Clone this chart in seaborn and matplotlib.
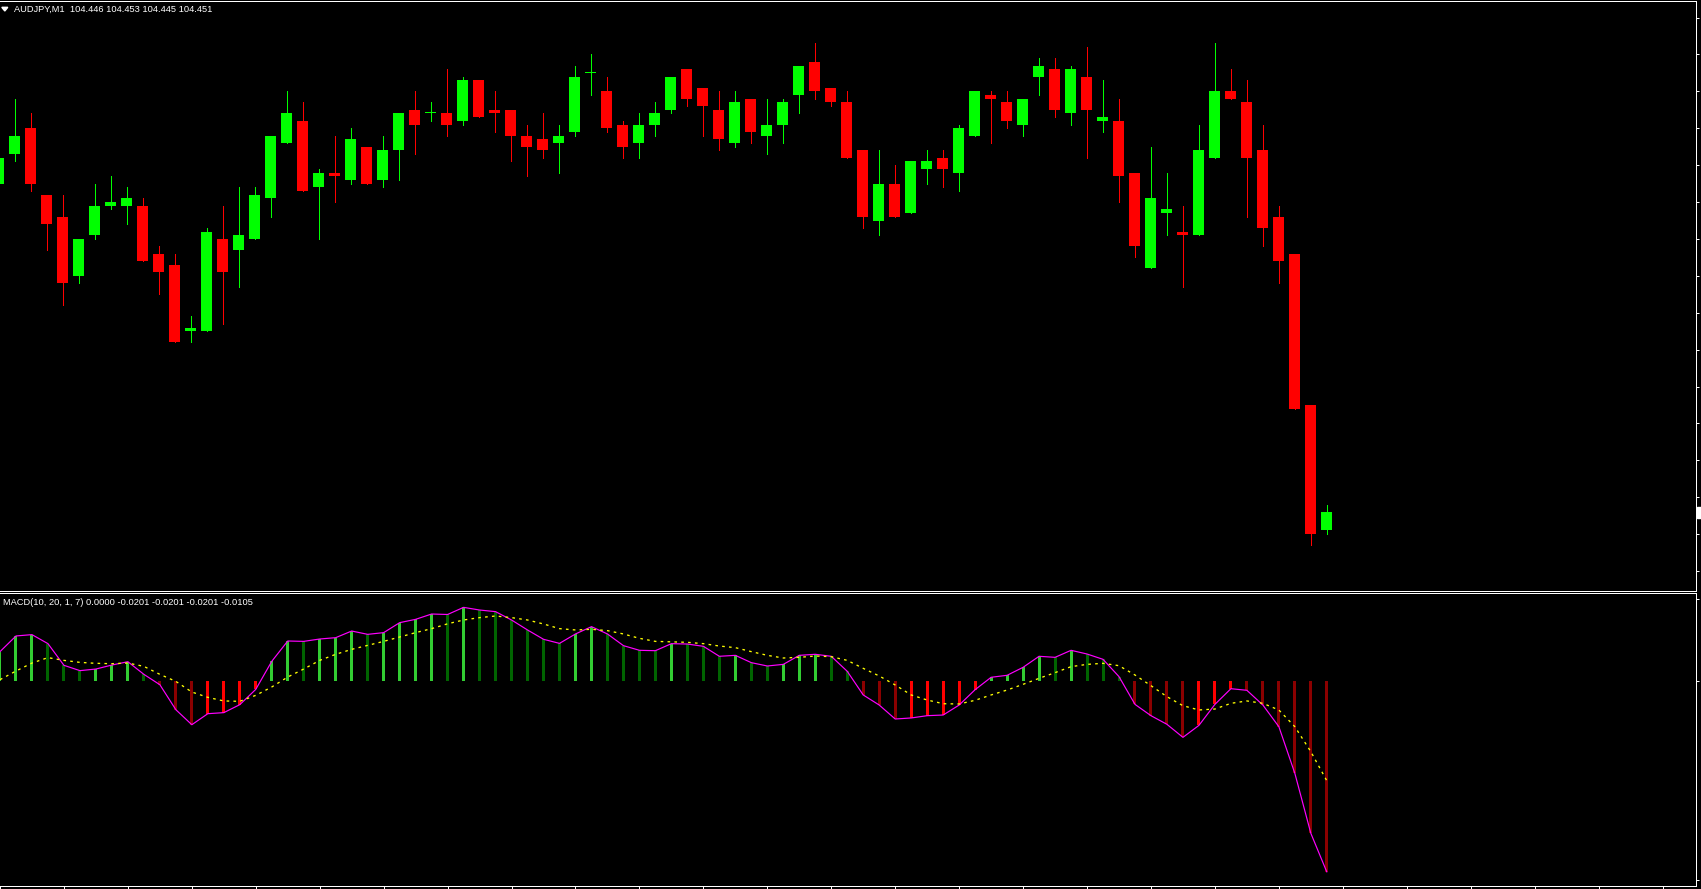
import numpy as np
import pandas as pd
import matplotlib
matplotlib.use("Agg")
import matplotlib.pyplot as plt
from matplotlib.patches import Polygon, Rectangle
import seaborn as sns

# ---------------- data ----------------
symbol_label = "AUDJPY,M1  104.446 104.453 104.445 104.451"
macd_label = "MACD(10, 20, 1, 7) 0.0000 -0.0201 -0.0201 -0.0201 -0.0105"

opens = [104.540, 104.548, 104.555, 104.537, 104.531, 104.515, 104.526, 104.534, 104.534, 104.534,
         104.521, 104.518, 104.500, 104.500, 104.525, 104.522, 104.525, 104.536, 104.551, 104.557,
         104.539, 104.543, 104.541, 104.550, 104.541, 104.549, 104.560, 104.559, 104.559, 104.557,
         104.568, 104.560, 104.560, 104.553, 104.552, 104.551, 104.554, 104.570, 104.565, 104.556,
         104.551, 104.556, 104.560, 104.571, 104.566, 104.560, 104.551, 104.563, 104.553, 104.556,
         104.564, 104.573, 104.566, 104.562, 104.549, 104.530, 104.540, 104.532, 104.544, 104.547,
         104.543, 104.553, 104.564, 104.562, 104.556, 104.569, 104.571, 104.559, 104.569, 104.557,
         104.557, 104.543, 104.517, 104.532, 104.527, 104.526, 104.547, 104.565, 104.562, 104.549,
         104.531, 104.521, 104.480, 104.446]
highs = [104.549, 104.563, 104.559, 104.537, 104.537, 104.525, 104.540, 104.542, 104.539, 104.536,
         104.523, 104.521, 104.504, 104.528, 104.534, 104.539, 104.539, 104.553, 104.565, 104.562,
         104.544, 104.553, 104.555, 104.550, 104.553, 104.559, 104.565, 104.562, 104.571, 104.569,
         104.568, 104.565, 104.560, 104.556, 104.559, 104.556, 104.572, 104.575, 104.569, 104.557,
         104.559, 104.562, 104.569, 104.571, 104.566, 104.565, 104.565, 104.563, 104.563, 104.563,
         104.572, 104.578, 104.566, 104.565, 104.549, 104.549, 104.545, 104.546, 104.549, 104.549,
         104.556, 104.565, 104.565, 104.565, 104.563, 104.574, 104.574, 104.572, 104.577, 104.568,
         104.563, 104.543, 104.550, 104.543, 104.534, 104.556, 104.578, 104.571, 104.568, 104.556,
         104.534, 104.521, 104.480, 104.453]
lows = [104.538, 104.546, 104.538, 104.522, 104.507, 104.513, 104.525, 104.533, 104.529, 104.519,
        104.510, 104.497, 104.497, 104.500, 104.502, 104.512, 104.525, 104.531, 104.551, 104.538,
        104.525, 104.535, 104.540, 104.540, 104.539, 104.541, 104.548, 104.557, 104.553, 104.556,
        104.558, 104.554, 104.546, 104.542, 104.547, 104.543, 104.553, 104.564, 104.554, 104.547,
        104.547, 104.553, 104.559, 104.561, 104.553, 104.549, 104.550, 104.551, 104.548, 104.551,
        104.559, 104.563, 104.561, 104.547, 104.528, 104.526, 104.531, 104.532, 104.540, 104.539,
        104.538, 104.553, 104.551, 104.555, 104.553, 104.564, 104.558, 104.556, 104.547, 104.554,
        104.535, 104.520, 104.517, 104.526, 104.512, 104.526, 104.547, 104.563, 104.531, 104.523,
        104.513, 104.479, 104.442, 104.445]
closes = [104.547, 104.553, 104.540, 104.529, 104.513, 104.525, 104.534, 104.535, 104.536, 104.519,
          104.516, 104.497, 104.501, 104.527, 104.516, 104.526, 104.537, 104.553, 104.559, 104.538,
          104.543, 104.542, 104.552, 104.540, 104.549, 104.559, 104.556, 104.559, 104.556, 104.568,
          104.558, 104.559, 104.553, 104.550, 104.549, 104.553, 104.569, 104.570, 104.555, 104.550,
          104.556, 104.559, 104.569, 104.563, 104.561, 104.552, 104.562, 104.554, 104.556, 104.562,
          104.572, 104.565, 104.562, 104.547, 104.531, 104.540, 104.531, 104.546, 104.546, 104.544,
          104.555, 104.565, 104.563, 104.557, 104.563, 104.572, 104.560, 104.571, 104.560, 104.558,
          104.542, 104.523, 104.536, 104.533, 104.526, 104.549, 104.565, 104.563, 104.547, 104.528,
          104.519, 104.479, 104.445, 104.451]

macd = [0.00309, 0.00474, 0.00488, 0.00393, 0.00165, 0.00109, 0.00126, 0.00168, 0.00203, 0.00070,
        -0.00039, -0.00302, -0.00460, -0.00344, -0.00333, -0.00249, -0.00088, 0.00207, 0.00421, 0.00417,
        0.00442, 0.00456, 0.00526, 0.00491, 0.00509, 0.00614, 0.00649, 0.00705, 0.00700, 0.00775,
        0.00747, 0.00730, 0.00642, 0.00537, 0.00439, 0.00396, 0.00495, 0.00572, 0.00495, 0.00372,
        0.00323, 0.00319, 0.00393, 0.00389, 0.00365, 0.00260, 0.00270, 0.00193, 0.00158, 0.00175,
        0.00270, 0.00281, 0.00260, 0.00102, -0.00147, -0.00253, -0.00400, -0.00389, -0.00365, -0.00358,
        -0.00253, -0.00091, 0.00039, 0.00060, 0.00144, 0.00260, 0.00249, 0.00323, 0.00284, 0.00228,
        0.00046, -0.00246, -0.00365, -0.00456, -0.00593, -0.00467, -0.00246, -0.00081, -0.00098, -0.00253,
        -0.00481, -0.00972, -0.01603, -0.02010]
signal = [0.00014, 0.00105, 0.00189, 0.00246, 0.00217, 0.00196, 0.00186, 0.00182, 0.00189, 0.00154,
          0.00070, -0.00004, -0.00116, -0.00172, -0.00210, -0.00214, -0.00151, -0.00063, 0.00042, 0.00126,
          0.00217, 0.00281, 0.00333, 0.00375, 0.00417, 0.00463, 0.00509, 0.00551, 0.00602, 0.00642,
          0.00667, 0.00684, 0.00667, 0.00642, 0.00600, 0.00551, 0.00537, 0.00544, 0.00530, 0.00495,
          0.00449, 0.00417, 0.00412, 0.00407, 0.00393, 0.00368, 0.00351, 0.00309, 0.00270, 0.00242,
          0.00249, 0.00263, 0.00256, 0.00217, 0.00133, 0.00053, -0.00042, -0.00147, -0.00200, -0.00239,
          -0.00242, -0.00203, -0.00147, -0.00095, -0.00035, 0.00028, 0.00088, 0.00151, 0.00175, 0.00186,
          0.00161, 0.00063, -0.00049, -0.00165, -0.00260, -0.00305, -0.00295, -0.00235, -0.00210, -0.00235,
          -0.00305, -0.00481, -0.00744, -0.01050]

price_ticks = [104.585 - 0.01 * k for k in range(16)]
macd_ticks = [0.0086, 0.0, -0.0209]

# ---------------- style ----------------
sns.set_theme(style="dark", rc={"axes.facecolor": "black", "figure.facecolor": "black",
                                "savefig.facecolor": "black", "axes.grid": False,
                                "axes.edgecolor": "white"})
plt.rcParams['font.family'] = ['Liberation Sans', 'DejaVu Sans']

BULL, BEAR = '#00FF00', '#FF0000'
W, H = 1701, 889
PX = 0.72  # one pixel in points

df = pd.DataFrame({"open": opens, "high": highs, "low": lows, "close": closes,
                   "macd": macd, "signal": signal})
df["idx"] = np.arange(len(df))

fig = plt.figure(figsize=(W / 100, H / 100), dpi=100)
fig.patch.set_facecolor("black")
ax = fig.add_axes([0, (H - 590.5) / H, 1695.5 / W, 590.0 / H])
ax2 = fig.add_axes([0, (H - 885.5) / H, 1695.5 / W, (885.5 - 592.5) / H])

for a in (ax, ax2):
    a.set_facecolor("black")
    a.spines["left"].set_visible(False)
    for s in ("top", "right", "bottom"):
        a.spines[s].set_color("white")
        a.spines[s].set_linewidth(PX)
    a.set_xlim(0.09375, 106.0625)

# ---------------- candles ----------------
o = df["open"].to_numpy(); c = df["close"].to_numpy()
h = df["high"].to_numpy(); l = df["low"].to_numpy()
x = df["idx"].to_numpy()
cols = np.where(c >= o, BULL, BEAR)
ax.vlines(x, l, h, colors=cols, linewidth=1.0 * PX, antialiased=False)
body_h = np.maximum(np.abs(c - o), 1.0 / 3690)
ax.bar(x, body_h, bottom=np.minimum(o, c), width=11 / 16, color=cols,
       linewidth=0, antialiased=False)
ax.set_ylim(104.42973, 104.58962)
ax.yaxis.tick_right()
ax.set_yticks(price_ticks)
ax.tick_params(axis="y", which="both", right=True, left=False, direction="out",
               length=3 * PX, width=PX, colors="white", labelright=False, labelleft=False)
ax.tick_params(axis="x", bottom=False, labelbottom=False)

# ---------------- MACD panel ----------------
m = df["macd"].to_numpy()
prev = np.r_[m[0] - 1, m[:-1]]
rising = m > prev
hcols = np.where(m >= 0, np.where(rising, '#32CD32', '#006400'),
                 np.where(rising, '#FF0000', '#8B0000'))
ax2.bar(x, m, width=3 / 16, color=hcols, linewidth=0, antialiased=False)
sns.lineplot(data=df, x="idx", y="macd", ax=ax2, color='#FF00FF', linewidth=0.85)
sns.lineplot(data=df, x="idx", y="signal", ax=ax2, color='#FFFF00', linewidth=0.95)
ax2.lines[-1].set_linestyle((0, (2.0, 3.2)))
ax2.set_ylim(-0.021522, 0.0093138)
ax2.set_xlabel(""); ax2.set_ylabel("")
ax2.yaxis.tick_right()
ax2.set_yticks(macd_ticks)
ax2.tick_params(axis="y", right=True, left=False, direction="out", length=3 * PX,
                width=PX, colors="white", labelright=False, labelleft=False)
ax2.set_xticks(np.arange(0, 107, 4))
ax2.tick_params(axis="x", bottom=True, direction="out", length=3 * PX, width=PX,
                colors="white", labelbottom=False)

# ---------------- texts ----------------
fig.text(13.5 / W, 1 - 11.8 / H, symbol_label, color="white", fontsize=6.7,
         va="baseline", ha="left")
fig.patches.append(Polygon([[1.8 / W, 1 - 7.3 / H], [7.8 / W, 1 - 7.3 / H], [4.8 / W, 1 - 11 / H]],
                           closed=True, transform=fig.transFigure, color="white"))
fig.text(3 / W, 1 - 605 / H, macd_label, color="white", fontsize=6.7,
         va="baseline", ha="left")
fig.patches.append(Rectangle((1697 / W, 1 - 517.5 / H), 4 / W, 10.5 / H,
                             transform=fig.transFigure, color="white"))

fig.savefig("out.png", dpi=100, facecolor="black")
